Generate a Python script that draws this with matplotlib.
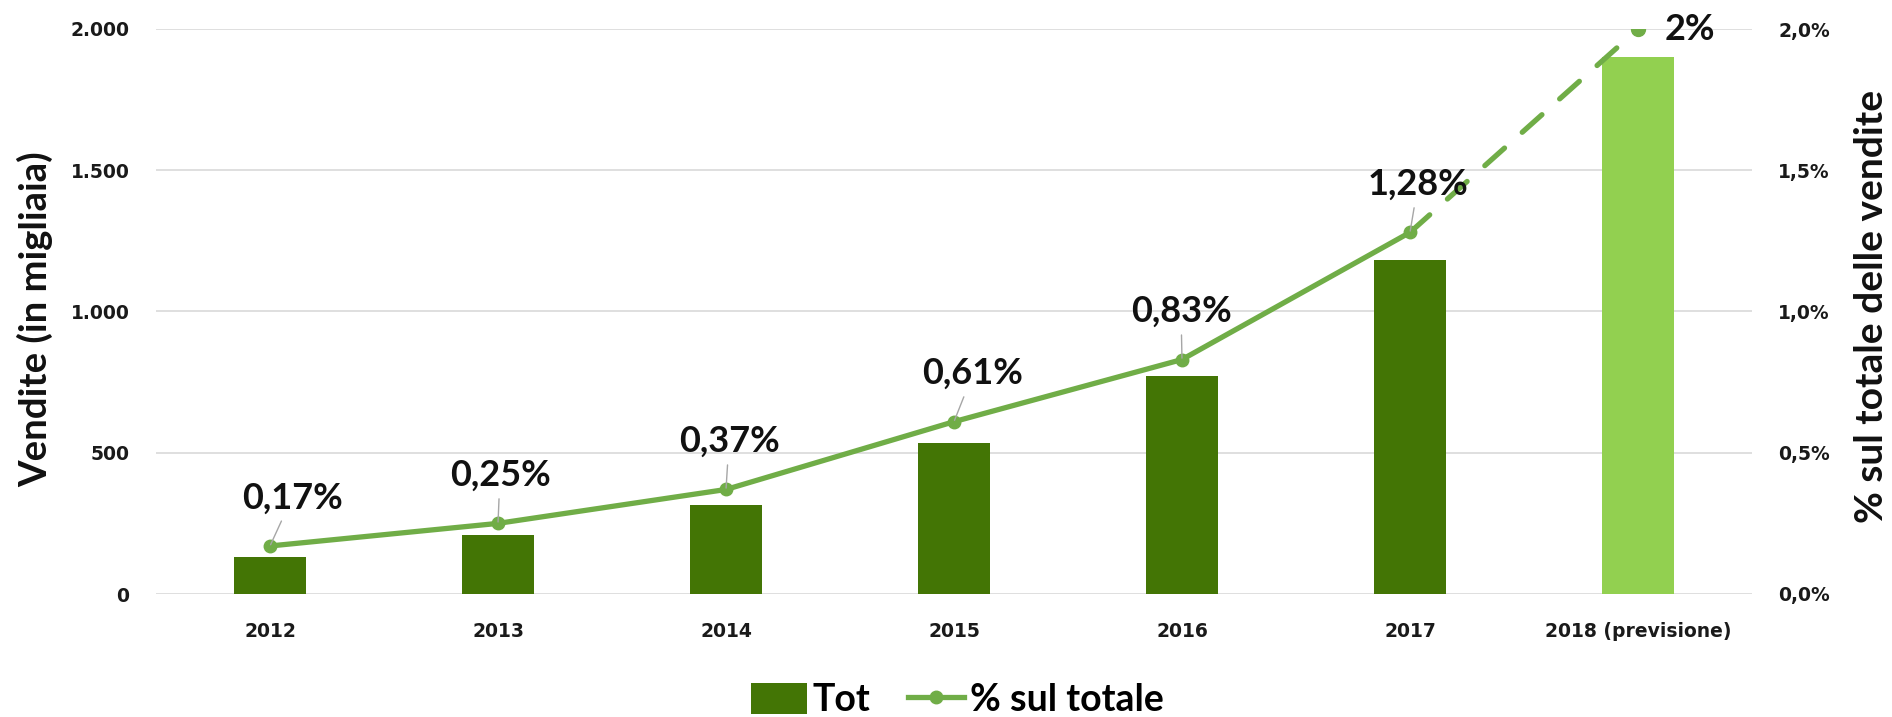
import numpy as np
import matplotlib
matplotlib.use("Agg")
import matplotlib.pyplot as plt
from matplotlib.patches import Patch
from matplotlib.lines import Line2D

# data
years = ["2012", "2013", "2014", "2015", "2016", "2017", "2018 (previsione)"]
sales = [131, 209, 315, 534, 771, 1182, 1900]  # vendite in migliaia
share = [0.17, 0.25, 0.37, 0.61, 0.83, 1.28, 2.0]  # % sul totale
share_labels = ["0,17%", "0,25%", "0,37%", "0,61%", "0,83%", "1,28%", "2%"]
left_ticks = [0, 500, 1000, 1500, 2000]
left_ticklabels = ["0", "500", "1.000", "1.500", "2.000"]
right_ticks = [0, 0.5, 1.0, 1.5, 2.0]
right_ticklabels = ["0,0%", "0,5%", "1,0%", "1,5%", "2,0%"]

dark_green = "#437505"
light_green = "#92D050"
line_green = "#70AD47"
tick_font = "DejaVu Sans"
label_font = "Lato"

x = np.arange(len(years))
bar_colors = [dark_green] * (len(years) - 1) + [light_green]

fig = plt.figure(figsize=(18.92, 7.17), dpi=100)
ax = fig.add_axes([156 / 1892, 1 - 594 / 717, 1596 / 1892, 565 / 717])
ax2 = ax.twinx()

ax.bar(x, sales, width=0.32, color=bar_colors, zorder=2)
ax.set_xlim(-0.5, len(years) - 0.5)
ax.set_ylim(0, 2000)
ax.set_yticks(left_ticks)
ax.set_yticklabels(left_ticklabels)
ax.set_xticks(x)
ax.set_xticklabels(years)
ax.yaxis.grid(True, color="#D9D9D9", lw=1.2)
ax.set_axisbelow(True)
ax.tick_params(axis="y", length=0, pad=19, labelsize=13.5)
ax.tick_params(axis="x", length=0, pad=20, labelsize=13.5)
for lab in ax.get_xticklabels() + ax.get_yticklabels():
    lab.set_fontweight("bold")
    lab.set_family(tick_font)
    lab.set_color("#1a1a1a")

# percentage line: solid up to 2017, dashed forecast to 2018
ax2.plot(x[:-1], share[:-1], color=line_green, lw=3.8, marker="o", ms=9,
         solid_capstyle="round", zorder=3)
ax2.plot(x[-2:], share[-2:], color=line_green, lw=3.8, ls=(0, (5, 4.5)),
         dash_capstyle="round", zorder=3)
ax2.plot(x[-1], share[-1], color=line_green, marker="o", ms=10, zorder=3)
ax2.set_ylim(0, 2.0)
ax2.set_yticks(right_ticks)
ax2.set_yticklabels(right_ticklabels)
ax2.tick_params(axis="y", length=0, pad=19, labelsize=13.5)
for lab in ax2.get_yticklabels():
    lab.set_fontweight("bold")
    lab.set_family(tick_font)
    lab.set_color("#1a1a1a")

for a in (ax, ax2):
    for s in a.spines.values():
        s.set_visible(False)

# data labels with short grey leader lines
label_dx = [22, 2, 3, 19, -1, 8]
for i in range(len(years) - 1):
    ax2.annotate(share_labels[i], xy=(x[i], share[i]),
                 xytext=(label_dx[i], 48), textcoords="offset pixels",
                 ha="center", va="center", fontsize=26, fontweight="bold",
                 family=label_font, color="#111111", zorder=5,
                 arrowprops=dict(arrowstyle="-", color="#A6A6A6", lw=1,
                                 shrinkA=3, shrinkB=1))
ax2.annotate(share_labels[-1], xy=(x[-1], share[-1]), xytext=(27, 0),
             textcoords="offset pixels", ha="left", va="center",
             fontsize=26, fontweight="bold", family=label_font,
             color="#111111")

fig.text(35 / 1892, 1 - 319 / 717, "Vendite (in migliaia)", rotation=90,
         ha="center", va="center", fontsize=27.5, family=label_font,
         fontweight="bold", color="#111111")
fig.text(1871 / 1892, 1 - 306 / 717, "% sul totale delle vendite", rotation=90,
         ha="center", va="center", fontsize=28, family=label_font,
         fontweight="bold", color="#111111")

handles = [Patch(facecolor=dark_green),
           Line2D([0], [0], color=line_green, lw=3.8, marker="o", ms=9)]
fig.legend(handles, ["Tot", "% sul totale"], loc="center",
           bbox_to_anchor=(0.506, 0.024), ncol=2, frameon=False,
           prop=dict(family=label_font, size=27, weight="bold"),
           handlelength=1.5, handleheight=0.9, handletextpad=0.15,
           columnspacing=1.0)

fig.savefig("out.png", dpi=100)
